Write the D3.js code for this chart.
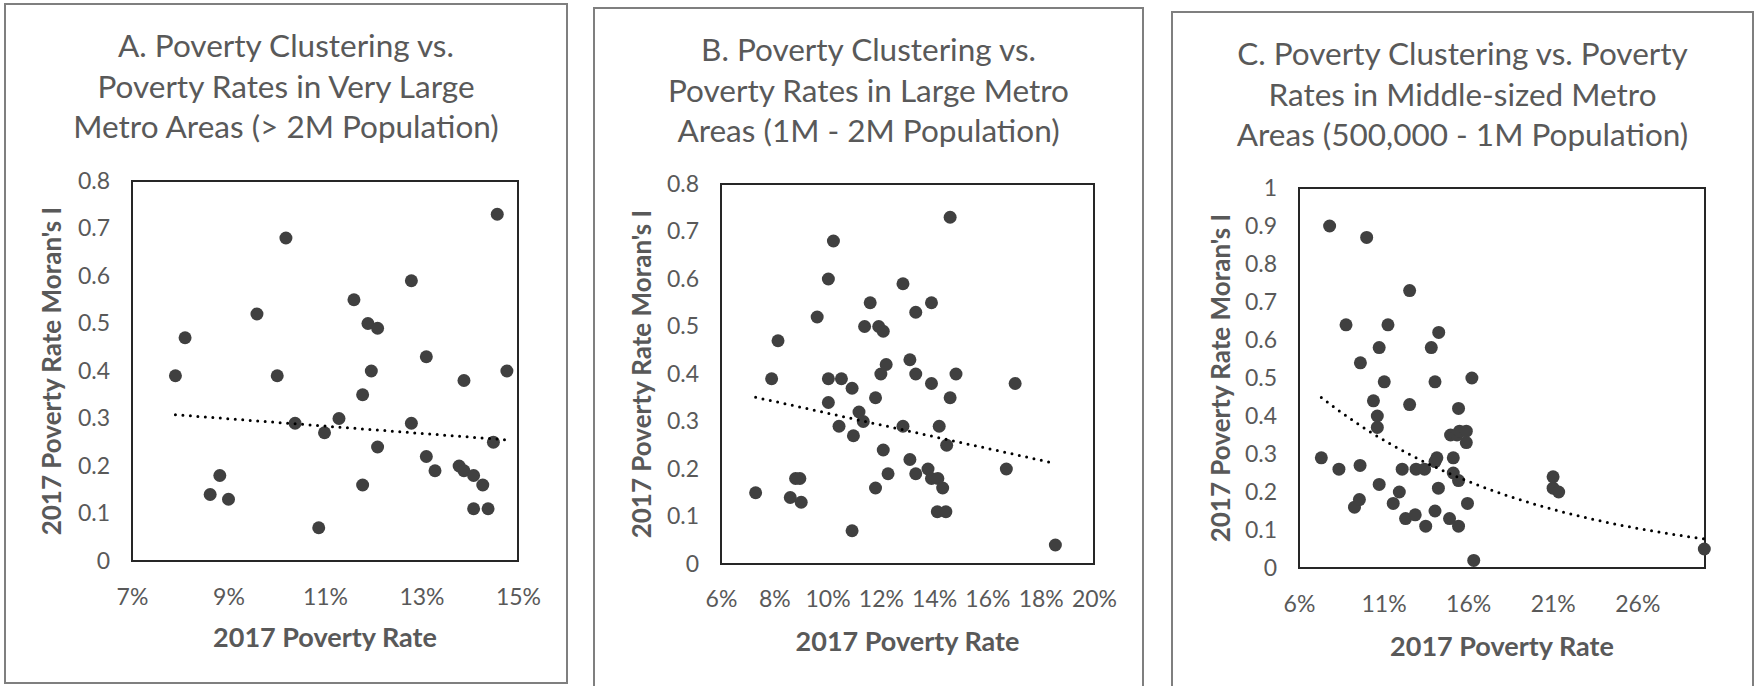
<!DOCTYPE html>
<html><head><meta charset="utf-8">
<script src="https://cdn.jsdelivr.net/npm/d3@7"></script>
<style>
body{margin:0;background:#fff;}
svg text{font-family:Lato,"Open Sans",sans-serif;fill:#595959;}
</style>
</head><body>
<svg id="chart" width="1754" height="686"></svg>
<script>
// ---------- DATA ----------
const titleA = ["A. Poverty Clustering vs.", "Poverty Rates in Very Large", "Metro Areas (> 2M Population)"];
const titleB = ["B. Poverty Clustering vs.", "Poverty Rates in Large Metro", "Areas (1M - 2M Population)"];
const titleC = ["C. Poverty Clustering vs. Poverty", "Rates in Middle-sized Metro", "Areas (500,000 - 1M Population)"];
const xTitle = "2017 Poverty Rate";
const yTitle = "2017 Poverty Rate Moran's I";

const xTicksA = [7, 9, 11, 13, 15];
const xTicksB = [6, 8, 10, 12, 14, 16, 18, 20];
const xTicksC = [6, 11, 16, 21, 26];
const yTicksAB = [0, 0.1, 0.2, 0.3, 0.4, 0.5, 0.6, 0.7, 0.8];
const yTicksC = [0, 0.1, 0.2, 0.3, 0.4, 0.5, 0.6, 0.7, 0.8, 0.9, 1];

// Panel A: very large metros (poverty rate %, Moran's I)
const rateA = [7.9, 8.1, 8.62, 8.82, 9.0, 9.59, 10.01, 10.19, 10.38, 10.87, 10.99, 11.29, 11.6, 11.78, 11.78, 11.89, 11.96, 12.09, 12.09, 12.79, 12.79, 13.1, 13.1, 13.28, 13.78, 13.88, 13.88, 14.08, 14.08, 14.27, 14.38, 14.49, 14.57, 14.77];
const moranA = [0.39, 0.47, 0.14, 0.18, 0.13, 0.52, 0.39, 0.68, 0.29, 0.07, 0.27, 0.30, 0.55, 0.35, 0.16, 0.50, 0.40, 0.49, 0.24, 0.59, 0.29, 0.43, 0.22, 0.19, 0.20, 0.38, 0.19, 0.18, 0.11, 0.16, 0.11, 0.25, 0.73, 0.40];
// trendline end points
const trendRateA = [7.9, 14.77];
const trendMoranA = [0.308, 0.255];

// Panel B: large metros
const rateB = [7.3, 7.9, 8.14, 8.6, 8.8, 8.96, 9.01, 9.61, 10.03, 10.03, 10.03, 10.22, 10.43, 10.52, 10.92, 10.92, 10.97, 11.18, 11.34, 11.39, 11.6, 11.8, 11.8, 11.92, 12.0, 12.09, 12.09, 12.2, 12.27, 12.83, 12.83, 13.09, 13.09, 13.31, 13.31, 13.31, 13.77, 13.9, 13.9, 13.9, 14.14, 14.19, 14.12, 14.32, 14.44, 14.47, 14.6, 14.6, 14.82, 16.71, 17.04, 18.55];
const moranB = [0.15, 0.39, 0.47, 0.14, 0.18, 0.18, 0.13, 0.52, 0.60, 0.39, 0.34, 0.68, 0.29, 0.39, 0.37, 0.07, 0.27, 0.32, 0.30, 0.50, 0.55, 0.35, 0.16, 0.50, 0.40, 0.49, 0.24, 0.42, 0.19, 0.59, 0.29, 0.43, 0.22, 0.53, 0.40, 0.19, 0.20, 0.55, 0.38, 0.18, 0.18, 0.29, 0.11, 0.16, 0.11, 0.25, 0.73, 0.35, 0.40, 0.20, 0.38, 0.04];
const trendRateB = [7.3, 18.45];
const trendMoranB = [0.351, 0.213];

// Panel C: middle-sized metros
const rateC = [7.32, 7.81, 8.36, 8.78, 9.28, 9.57, 9.61, 9.63, 10.0, 10.4, 10.63, 10.63, 10.74, 10.74, 11.04, 11.26, 11.57, 11.93, 12.1, 12.3, 12.54, 12.54, 12.87, 12.92, 13.42, 13.49, 13.82, 14.04, 14.04, 14.04, 14.15, 14.26, 14.24, 14.9, 14.96, 15.12, 15.12, 15.34, 15.43, 15.43, 15.43, 15.49, 15.89, 15.89, 15.96, 16.22, 16.33, 21.02, 21.02, 21.35, 29.96];
const moranC = [0.29, 0.90, 0.26, 0.64, 0.16, 0.18, 0.27, 0.54, 0.87, 0.44, 0.40, 0.37, 0.58, 0.22, 0.49, 0.64, 0.17, 0.20, 0.26, 0.13, 0.73, 0.43, 0.14, 0.26, 0.26, 0.11, 0.58, 0.49, 0.15, 0.28, 0.29, 0.62, 0.21, 0.13, 0.35, 0.29, 0.25, 0.35, 0.42, 0.23, 0.11, 0.36, 0.36, 0.33, 0.17, 0.50, 0.02, 0.24, 0.21, 0.20, 0.05];

// ---------- LAYOUT ----------
const panels = [
  {title: titleA, rate: rateA, moran: moranA, xTicks: xTicksA, yTicks: yTicksAB, xDom: [7, 15], yDom: [0, 0.8],
   fit: "linear", tx: trendRateA, ty: trendMoranA,
   box: {x: 5, y: 4, w: 562, h: 679}, plot: {x: 132, y: 181, w: 386, h: 380}, titleY: 46, yTitleX: 52, xTickY: 597, xTitleY: 638},
  {title: titleB, rate: rateB, moran: moranB, xTicks: xTicksB, yTicks: yTicksAB, xDom: [6, 20], yDom: [0, 0.8],
   fit: "linear", tx: trendRateB, ty: trendMoranB,
   box: {x: 594, y: 8, w: 549, h: 700}, plot: {x: 721, y: 184, w: 373, h: 380}, titleY: 50, yTitleX: 642, xTickY: 599, xTitleY: 642},
  {title: titleC, rate: rateC, moran: moranC, xTicks: xTicksC, yTicks: yTicksC, xDom: [6, 30], yDom: [0, 1],
   fit: "exp",
   box: {x: 1172, y: 12, w: 581, h: 700}, plot: {x: 1299, y: 188, w: 406, h: 380}, titleY: 54, yTitleX: 1221, xTickY: 604, xTitleY: 647}
];

const svg = d3.select("#chart");
const yFmt = d3.format(".1~f");

panels.forEach(p => {
  const g = svg.append("g");
  g.append("rect").attr("x", p.box.x).attr("y", p.box.y).attr("width", p.box.w).attr("height", p.box.h)
    .attr("fill", "#fff").attr("stroke", "#7f7f7f").attr("stroke-width", 2);

  const cx = p.box.x + p.box.w / 2;
  g.selectAll("text.title").data(p.title).join("text")
    .attr("class", "title").attr("x", cx).attr("y", (d, i) => p.titleY + i * 40.5)
    .attr("dy", "0.35em").attr("text-anchor", "middle").style("font-size", "31.5px").text(d => d);

  const x = d3.scaleLinear().domain(p.xDom).range([p.plot.x, p.plot.x + p.plot.w]);
  const y = d3.scaleLinear().domain(p.yDom).range([p.plot.y + p.plot.h, p.plot.y]);

  // axes (labels only, no tick marks)
  const yAxis = g.append("g").attr("transform", `translate(${p.plot.x},0)`)
    .call(d3.axisLeft(y).tickValues(p.yTicks).tickFormat(yFmt).tickSize(0).tickPadding(22));
  yAxis.select(".domain").remove();
  yAxis.selectAll("text").style("font-size", "23px").attr("fill", "#595959");

  const xAxis = g.append("g").attr("transform", `translate(0,${p.xTickY})`)
    .call(d3.axisBottom(x).tickValues(p.xTicks).tickFormat(d => d + "%").tickSize(0).tickPadding(0));
  xAxis.select(".domain").remove();
  xAxis.selectAll("text").style("font-size", "23px").attr("fill", "#595959").attr("dy", "0.35em").attr("y", 0);

  g.append("rect").attr("x", p.plot.x).attr("y", p.plot.y).attr("width", p.plot.w).attr("height", p.plot.h)
    .attr("fill", "none").attr("stroke", "#262626").attr("stroke-width", 2);

  // axis titles
  g.append("text").attr("x", p.plot.x + p.plot.w / 2).attr("y", p.xTitleY).attr("dy", "0.35em")
    .attr("text-anchor", "middle").style("font-size", "27px").style("font-weight", "bold").text(xTitle);
  g.append("text").attr("transform", `translate(${p.yTitleX},${p.plot.y + p.plot.h / 2}) rotate(-90)`)
    .attr("dy", "0.35em").attr("text-anchor", "middle").style("font-size", "26px").style("font-weight", "bold").text(yTitle);

  // points
  const pts = p.rate.map((r, i) => ({r, m: p.moran[i]}));
  g.selectAll("circle").data(pts).join("circle")
    .attr("cx", d => x(d.r)).attr("cy", d => y(d.m)).attr("r", 6.5).attr("fill", "#404040");

  // trendline
  let tdata;
  if (p.fit === "exp") {
    // exponential least-squares fit, like the spreadsheet's exponential trendline
    const xs = p.rate, ys = p.moran.map(Math.log), n = xs.length;
    const mx = d3.mean(xs), my = d3.mean(ys);
    let sxy = 0, sxx = 0;
    for (let i = 0; i < n; i++) { sxy += (xs[i] - mx) * (ys[i] - my); sxx += (xs[i] - mx) ** 2; }
    const b = sxy / sxx, a = my - b * mx;
    const [x0, x1] = d3.extent(xs);
    tdata = d3.range(0, 101).map(k => { const t = x0 + (x1 - x0) * k / 100; return [t, Math.exp(a + b * t)]; });
  } else {
    tdata = p.tx.map((t, i) => [t, p.ty[i]]);
  }
  const line = d3.line().x(d => x(d[0])).y(d => y(d[1]));
  g.append("path").datum(tdata)
    .attr("d", line).attr("fill", "none").attr("stroke", "#000").attr("stroke-width", 3)
    .attr("stroke-linecap", "round").attr("stroke-dasharray", "0,7.5");
});
</script>
</body></html>
